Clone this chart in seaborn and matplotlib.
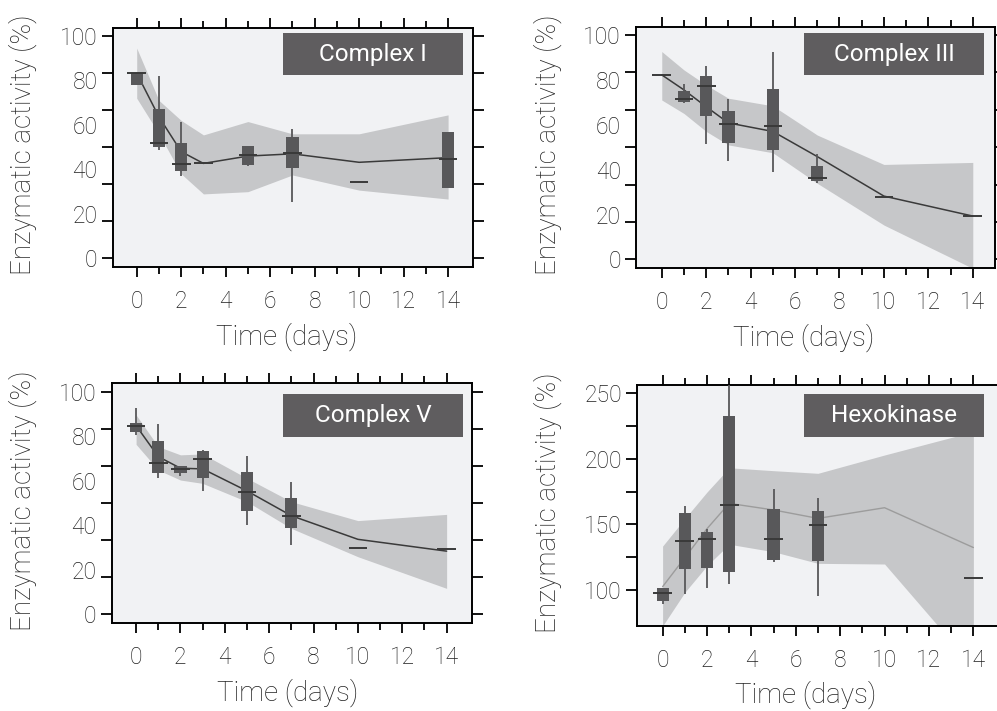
import numpy as np
import pandas as pd
import matplotlib
matplotlib.use("Agg")
import matplotlib.pyplot as plt
from matplotlib.patches import Rectangle
import seaborn as sns

# ---- data ----
days = [0, 1, 2, 3, 5, 7, 10, 14]

# Complex I
c1_fit = [83.2, 63.6, 48.0, 42.7, 46.0, 47.0, 43.2, 45.3]
c1_upper = [94.5, 71.0, 62.0, 55.5, 61.5, 56.0, 56.0, 64.5]
c1_lower = [72.0, 56.0, 38.0, 29.0, 30.0, 37.5, 30.7, 26.7]
c1_box_days = [0, 1, 2, 5, 7, 14]
c1_q1 = [78.0, 50.2, 39.4, 42.1, 40.8, 31.8]
c1_q3 = [83.2, 67.0, 51.7, 50.5, 54.6, 56.7]
c1_wlo = [78.0, 48.7, 37.2, 41.7, 25.2, 31.8]
c1_whi = [83.2, 82.0, 61.5, 50.5, 58.0, 56.7]
c1_med_days = [0, 1, 2, 3, 5, 7, 10, 14]
c1_med = [83.2, 52.0, 42.3, 42.7, 46.3, 47.5, 34.5, 44.5]

# Complex III
c3_fit = [82.2, 75.5, 68.0, 60.8, 57.0, 45.8, 28.2, 19.3]
c3_upper = [92.6, 84.4, 77.7, 71.8, 68.4, 55.4, 42.3, 43.2]
c3_lower = [71.0, 65.0, 57.0, 51.0, 47.5, 33.9, 15.3, -4.0]
c3_box_days = [1, 2, 3, 5, 7]
c3_q1 = [70.3, 63.9, 52.0, 48.7, 34.9]
c3_q3 = [75.2, 81.7, 66.1, 75.9, 41.6]
c3_wlo = [69.8, 51.4, 44.0, 38.8, 33.9]
c3_whi = [78.0, 86.2, 71.5, 92.3, 46.8]
c3_med_days = [0, 1, 2, 3, 5, 7, 10, 14]
c3_med = [82.2, 71.3, 77.4, 60.3, 59.4, 36.4, 27.9, 19.3]

# Complex V
c5_fit = [84.7, 70.8, 65.6, 65.3, 55.4, 44.3, 33.7, 28.4]
c5_upper = [89.5, 75.3, 71.6, 72.0, 61.1, 50.6, 42.1, 44.9]
c5_lower = [76.3, 64.8, 60.3, 58.8, 50.6, 38.6, 25.9, 11.7]
c5_box_days = [0, 1, 2, 3, 5, 7]
c5_q1 = [81.7, 63.3, 63.3, 61.4, 46.6, 38.9]
c5_q3 = [86.1, 77.8, 66.6, 73.4, 63.8, 52.1]
c5_wlo = [80.5, 61.1, 62.1, 55.4, 40.1, 31.1]
c5_whi = [92.8, 85.5, 66.6, 73.8, 71.3, 59.3]
c5_med_days = [0, 1, 2, 3, 5, 7, 10, 14]
c5_med = [84.7, 67.8, 65.3, 69.6, 55.1, 44.3, 29.9, 29.2]

# Hexokinase
hk_fit = [102.8, 124.8, 146.8, 166.0, 161.0, 154.6, 162.7, 132.5]
hk_upper = [133.6, 154.4, 174.6, 193.0, 190.8, 188.8, 202.7, 220.4]
hk_lower = [73.0, 98.5, 118.7, 135.0, 129.3, 120.5, 120.0, 42.0]
hk_box_days = [0, 1, 2, 3, 5, 7]
hk_q1 = [92.2, 116.2, 117.2, 114.2, 123.3, 122.3]
hk_q3 = [101.5, 158.4, 144.0, 232.3, 161.7, 160.2]
hk_wlo = [89.4, 97.0, 102.0, 105.0, 121.2, 95.4]
hk_whi = [101.5, 164.3, 146.5, 262.0, 176.9, 169.8]
hk_med_days = [0, 1, 2, 3, 5, 7, 14]
hk_med = [98.0, 137.4, 139.0, 164.8, 139.2, 149.3, 109.1]

titles = ["Complex I", "Complex III", "Complex V", "Hexokinase"]
pct_labels = ["0", "20", "40", "60", "80", "100"]

# ---- style ----
sns.set_theme(style="ticks")
plt.rcParams["font.family"] = ["Roboto", "DejaVu Sans"]
plt.rcParams["font.weight"] = "light"
plt.rcParams["axes.labelweight"] = "light"
plt.rcParams["text.color"] = "#222222"
plt.rcParams["axes.labelcolor"] = "#222222"
plt.rcParams["xtick.color"] = "black"
plt.rcParams["ytick.color"] = "black"
plt.rcParams["xtick.labelcolor"] = "#1e1e1e"
plt.rcParams["ytick.labelcolor"] = "#1e1e1e"

BG = "#f1f2f4"
BAND = "#c6c7c9"
BOX = "#58585a"
LINE = "#3a3a3a"
TBOX = "#5f5d5f"

W, H = 997, 711
fig = plt.figure(figsize=(W / 100, H / 100), dpi=100)


def rect(l, t, r, b):
    return [l / W, 1 - b / H, (r - l) / W, (b - t) / H]


def panel(pos, fit, up, lo, bdays, q1, q3, wlo, whi, mdays, med,
          xlim, ylim, title, tbox, xlab, ylab, line_color=LINE, line_w=1.1,
          hexo=False):
    ax = fig.add_axes(rect(*pos))
    ax.set_facecolor(BG)
    ax.fill_between(days, lo, up, color=BAND, lw=0, zorder=1)
    df = pd.DataFrame({"day": days, "fit": fit})
    sns.lineplot(data=df, x="day", y="fit", ax=ax, color=line_color,
                 lw=line_w, zorder=2)
    ax.vlines(bdays, wlo, whi, color=BOX, lw=1.3, zorder=3)
    ax.bar(bdays, np.array(q3) - np.array(q1), bottom=q1, width=0.55,
           color=BOX, lw=0, zorder=4)
    ax.hlines(med, np.array(mdays) - 0.42, np.array(mdays) + 0.42,
              color=LINE, lw=1.4, zorder=5)
    ax.set_xlim(*xlim)
    ax.set_ylim(*ylim)

    ax.set_xticks(range(0, 15, 2))
    ax.set_xticks(range(1, 15, 2), minor=True)
    ax.tick_params(axis="x", which="major", length=7, width=1.3, pad=10,
                   labelsize=16.5, top=True, direction="out")
    ax.tick_params(axis="x", which="minor", length=4.8, width=1.3,
                   top=True, direction="out")
    if hexo:
        ax.set_yticks([100, 150, 200, 250])
        ax.set_yticks([125, 175, 225], minor=True)
        ax.tick_params(axis="y", which="both", length=8, width=1.3,
                       labelsize=16.5, pad=3, right=True, direction="out")
    else:
        # unlabeled ticks on 7 even steps, labels on 20-unit steps
        ax.yaxis.remove_overlapping_locs = False
        ax.set_yticks(np.linspace(0, 100, 7))
        ax.set_yticklabels([])
        ax.set_yticks([0, 20, 40, 60, 80, 100], minor=True)
        ax.set_yticklabels(pct_labels, minor=True)
        ax.tick_params(axis="y", which="major", length=8, width=1.3,
                       right=True, direction="out")
        ax.tick_params(axis="y", which="minor", length=0, pad=11,
                       labelsize=16.5)
    for s in ax.spines.values():
        s.set_linewidth(1.4)
        s.set_color("black")

    ax.set_xlabel("Time (days)", fontsize=20)
    ax.set_ylabel("Enzymatic activity (%)", fontsize=20)
    ax.xaxis.set_label_coords(xlab[0], xlab[1])
    ax.yaxis.set_label_coords(ylab[0], ylab[1])

    x0, x1, y0, y1 = tbox
    ax.add_patch(Rectangle((x0, y0), x1 - x0, y1 - y0, transform=ax.transAxes,
                           color=TBOX, lw=0, zorder=6))
    ax.text((x0 + x1) / 2, (y0 + y1) / 2, title, transform=ax.transAxes,
            ha="center", va="center", color="white", fontsize=17.5,
            fontweight="normal", zorder=7)
    return ax


panel((112.7, 28.3, 473, 266.7), c1_fit, c1_upper, c1_lower, c1_box_days,
      c1_q1, c1_q3, c1_wlo, c1_whi, c1_med_days, c1_med,
      (-1.08, 15.12), (-3.7, 103.4), titles[0], (0.473, 0.972, 0.804, 0.98),
      (0.483, -0.235), (-0.21, 0.51))
panel((636, 27.3, 995, 267.7), c3_fit, c3_upper, c3_lower, c3_box_days,
      c3_q1, c3_q3, c3_wlo, c3_whi, c3_med_days, c3_med,
      (-1.16, 15.0), (-3.7, 103.4), titles[1], (0.468, 0.969, 0.80, 0.975),
      (0.466, -0.233), (-0.206, 0.51))
panel((111.7, 383.3, 471.7, 622.7), c5_fit, c5_upper, c5_lower, c5_box_days,
      c5_q1, c5_q3, c5_wlo, c5_whi, c5_med_days, c5_med,
      (-1.1, 15.13), (-3.7, 103.7), titles[2], (0.477, 0.975, 0.777, 0.954),
      (0.49, -0.234), (-0.208, 0.51))
panel((637.3, 385, 1000, 625.7), hk_fit, hk_upper, hk_lower, hk_box_days,
      hk_q1, hk_q3, hk_wlo, hk_whi, hk_med_days, hk_med,
      (-1.14, 15.2), (73.2, 255.8), titles[3], (0.46, 0.956, 0.785, 0.961),
      (0.465, -0.228), (-0.208, 0.51), line_color="#9c9c9c", line_w=1.0,
      hexo=True)

fig.savefig("out.png", dpi=100)
